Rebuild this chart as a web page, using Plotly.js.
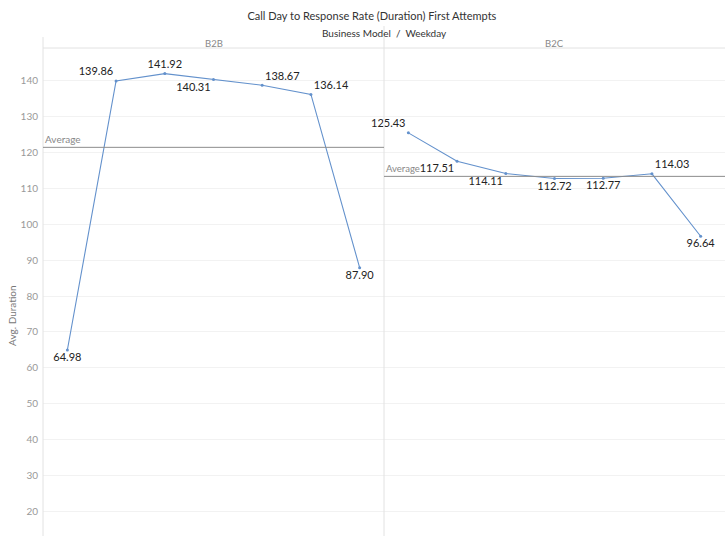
<!DOCTYPE html>
<html>
<head>
<meta charset="utf-8">
<script src="https://cdn.plot.ly/plotly-3.0.1.min.js"></script>
<style>
html,body{margin:0;padding:0;background:#fff;}
#chart{width:725px;height:536px;}
</style>
</head>
<body>
<div id="chart"></div>
<script>
// ---- data ----
const weekdays = ["Sunday","Monday","Tuesday","Wednesday","Thursday","Friday","Saturday"];
const b2bValues = [64.98, 139.86, 141.92, 140.31, 138.67, 136.14, 87.90];
const b2cValues = [125.43, 117.51, 114.11, 112.72, 112.77, 114.03, 96.64];
const panelNames = ["B2B", "B2C"];
const yTicks = [20, 30, 40, 50, 60, 70, 80, 90, 100, 110, 120, 130, 140];

// ---- label placement (style, not data) ----
const b2bTextPos = ["bottom center","top left","top center","bottom left","top right","top right","bottom center"];
const b2cTextPos = ["top left","bottom left","bottom left","bottom center","bottom center","top right","bottom center"];

const mean = a => a.reduce((s, v) => s + v, 0) / a.length;
const b2bAvg = mean(b2bValues);
const b2cAvg = mean(b2cValues);

const lineColor = "#6391cc";
const fontFam = "Lato, 'Open Sans', sans-serif";

function trace(vals, xa, pos) {
  return {
    type: "scatter",
    mode: "lines+markers+text",
    x: weekdays,
    y: vals,
    xaxis: xa,
    yaxis: "y",
    line: {color: lineColor, width: 1.1},
    marker: {color: lineColor, size: 3},
    text: vals.map(v => v.toFixed(2)),
    textposition: pos,
    textfont: {family: fontFam, size: 11, color: "#222"},
    cliponaxis: false,
    hoverinfo: "x+y",
    showlegend: false
  };
}

const data = [
  trace(b2bValues, "x", b2bTextPos),
  trace(b2cValues, "x2", b2cTextPos)
];

const gray = "#e2e2e2";
const layout = {
  width: 725, height: 536,
  margin: {l: 43, r: 0, t: 48, b: 0},
  paper_bgcolor: "#fff", plot_bgcolor: "#fff",
  font: {family: fontFam},
  title: {
    text: "Call Day to Response Rate (Duration) First Attempts",
    x: 0.513, xanchor: "center", y: 0.970, yanchor: "middle",
    font: {family: fontFam, size: 11, color: "#333"}
  },
  xaxis: {domain: [0, 0.5], range: [-0.5, 6.5], showticklabels: false, showgrid: false, zeroline: false, showline: false, ticks: "", anchor: "y", fixedrange: true},
  xaxis2: {domain: [0.5, 1], range: [-0.5, 6.5], showticklabels: false, showgrid: false, zeroline: false, showline: false, ticks: "", anchor: "y", fixedrange: true},
  yaxis: {
    range: [13.2, 149.05], tickvals: yTicks, ticktext: yTicks.map(String),
    showgrid: true, gridcolor: "#f2f2f2", gridwidth: 1, zeroline: false, showline: false,
    ticks: "", ticklabelstandoff: 4,
    tickfont: {family: fontFam, size: 10, color: "#999"}
  },
  shapes: [
    {type: "line", xref: "paper", yref: "paper", x0: 0, x1: 1, y0: 1, y1: 1, line: {color: gray, width: 1}},
    {type: "line", xref: "paper", yref: "paper", x0: 0, x1: 0, y0: 0, y1: 1.0225, line: {color: gray, width: 1}},
    {type: "line", xref: "paper", yref: "paper", x0: 0.5, x1: 0.5, y0: 0, y1: 1.045, line: {color: gray, width: 1}},
    {type: "line", xref: "x domain", yref: "y", x0: 0, x1: 1, y0: b2bAvg, y1: b2bAvg, line: {color: "#8c8c8c", width: 1}},
    {type: "line", xref: "x2 domain", yref: "y", x0: 0, x1: 1, y0: b2cAvg, y1: b2cAvg, line: {color: "#8c8c8c", width: 1}}
  ],
  annotations: [
    {text: "Business Model  /  Weekday", xref: "paper", yref: "paper", x: 0.5, y: 1.0307, xanchor: "center", yanchor: "middle", showarrow: false, font: {family: fontFam, size: 10, color: "#333"}},
    {text: panelNames[0], xref: "x domain", yref: "paper", x: 0.5, y: 1.009, xanchor: "center", yanchor: "middle", showarrow: false, font: {family: fontFam, size: 9.5, color: "#888"}},
    {text: panelNames[1], xref: "x2 domain", yref: "paper", x: 0.5, y: 1.009, xanchor: "center", yanchor: "middle", showarrow: false, font: {family: fontFam, size: 9.5, color: "#888"}},
    {text: "Average", xref: "x domain", yref: "y", x: 0, y: b2bAvg, xanchor: "left", yanchor: "bottom", xshift: 0, yshift: 0, showarrow: false, font: {family: fontFam, size: 10, color: "#888"}},
    {text: "Average", xref: "x2 domain", yref: "y", x: 0, y: b2cAvg, xanchor: "left", yanchor: "bottom", xshift: 0, yshift: 0, showarrow: false, font: {family: fontFam, size: 9.5, color: "#888"}},
    {text: "Avg. Duration", xref: "paper", yref: "paper", x: -0.0455, y: 0.453, xanchor: "center", yanchor: "middle", textangle: -90, showarrow: false, font: {family: fontFam, size: 10, color: "#777"}}
  ]
};

Plotly.newPlot("chart", data, layout, {displayModeBar: false, staticPlot: true});
</script>
</body>
</html>
